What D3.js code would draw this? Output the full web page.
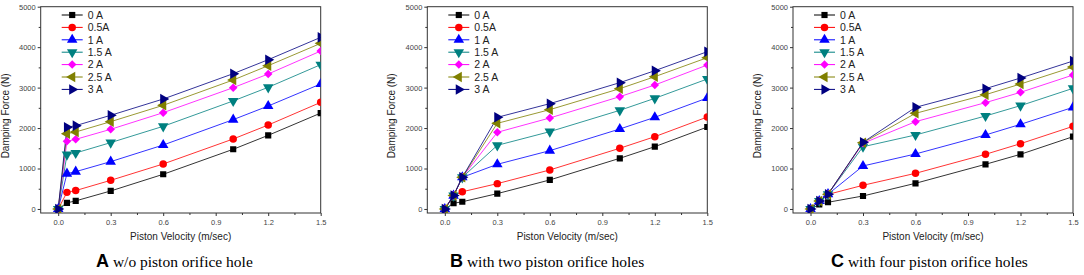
<!DOCTYPE html>
<html>
<head>
<meta charset="utf-8">
<script src="https://cdn.jsdelivr.net/npm/d3@7"></script>
<style>
  body { margin: 0; background: #fff; }
  svg { display: block; }
  text { font-family: "Liberation Sans", Arial, sans-serif; }
</style>
</head>
<body>
<div id="chart"></div>
<script>
const velocity = [0, 0.05, 0.1, 0.3, 0.6, 1.0, 1.2, 1.5];
const currents = ["0 A", "0.5A", "1 A", "1.5 A", "2 A", "2.5 A", "3 A"];
const colors   = ["#000000", "#ff0000", "#0000ff", "#008080", "#ff00ff", "#808000", "#000080"];
const xTicks = [0, 0.3, 0.6, 0.9, 1.2, 1.5];
const yTicks = [0, 1000, 2000, 3000, 4000, 5000];

// panel A: w/o orifice hole
const forceA = [
  [0, 150, 200, 445, 857, 1475, 1820, 2370],
  [0, 410, 455, 708, 1112, 1730, 2075, 2635],
  [0, 873, 922, 1170, 1581, 2208, 2545, 3090],
  [0, 1343, 1384, 1640, 2043, 2670, 3007, 3567],
  [0, 1672, 1721, 1969, 2380, 2998, 3336, 3904],
  [0, 1862, 1903, 2158, 2562, 3188, 3542, 4094],
  [0, 2018, 2060, 2315, 2718, 3344, 3690, 4242]
];
// panel B: two orifice holes
const forceB = [
  [0, 140, 178, 379, 717, 1252, 1540, 2026],
  [0, 330, 425, 626, 964, 1500, 1787, 2273],
  [0, 330, 782, 1104, 1441, 1977, 2265, 2743],
  [0, 330, 782, 1573, 1911, 2438, 2735, 3213],
  [0, 330, 782, 1895, 2249, 2776, 3064, 3559],
  [0, 330, 782, 2117, 2455, 2974, 3270, 3740],
  [0, 330, 782, 2265, 2603, 3122, 3418, 3888]
];
// panel C: four orifice holes
const forceC = [
  [0, 112, 165, 321, 634, 1104, 1351, 1787],
  [0, 197, 360, 585, 881, 1351, 1614, 2043],
  [0, 197, 365, 1063, 1359, 1829, 2092, 2512],
  [0, 197, 365, 1538, 1829, 2298, 2554, 2982],
  [0, 197, 365, 1623, 2158, 2628, 2883, 3311],
  [0, 197, 365, 1639, 2364, 2825, 3089, 3509],
  [0, 197, 365, 1647, 2512, 2974, 3237, 3657]
];

const panels = [
  { data: forceA, left: 40.7, right: 320.7, letter: "A", caption: "w/o piston orifice hole", capX: 96 },
  { data: forceB, left: 427.3, right: 707.3, letter: "B", caption: "with two piston orifice holes", capX: 450 },
  { data: forceC, left: 793, right: 1073, letter: "C", caption: "with four piston orifice holes", capX: 831 }
];

const W = 1084, H = 275;
const plotTop = 6.7, plotBottom = 213;

// marker shape + rotation for each series (Origin style)
const markers = [
  { type: d3.symbolSquare, rot: 0, size: 38 },
  { type: d3.symbolCircle, rot: 0, size: 44 },
  { type: d3.symbolTriangle, rot: 0, size: 48 },
  { type: d3.symbolTriangle, rot: 180, size: 48 },
  { type: d3.symbolSquare, rot: 45, size: 36 },
  { type: d3.symbolTriangle, rot: -90, size: 48 },
  { type: d3.symbolTriangle, rot: 90, size: 48 }
];

const svg = d3.select("#chart").append("svg")
  .attr("width", W).attr("height", H);

panels.forEach((p, pi) => {
  const x = d3.scaleLinear().domain([-0.1, 1.5]).range([p.left, p.right]);
  const y = d3.scaleLinear().domain([-100, 5000]).range([plotBottom, plotTop]);
  const g = svg.append("g");

  const clipId = "clip" + pi;
  g.append("clipPath").attr("id", clipId)
    .append("rect")
    .attr("x", p.left).attr("y", plotTop)
    .attr("width", p.right - p.left).attr("height", plotBottom - plotTop);

  // minor ticks
  const xMinor = d3.range(0.15, 1.5, 0.3);
  const yMinor = d3.range(500, 5000, 1000);
  g.append("g").attr("transform", `translate(0,${plotBottom})`)
    .call(d3.axisBottom(x).tickValues(xMinor).tickSize(2).tickFormat(""))
    .call(a => a.select(".domain").remove());
  g.append("g").attr("transform", `translate(${p.left},0)`)
    .call(d3.axisLeft(y).tickValues(yMinor).tickSize(2).tickFormat(""))
    .call(a => a.select(".domain").remove());

  // major ticks
  const xa = g.append("g").attr("transform", `translate(0,${plotBottom})`)
    .call(d3.axisBottom(x).tickValues(xTicks).tickSize(3).tickPadding(4).tickFormat(d3.format(".1f")));
  xa.select(".domain").remove();
  xa.selectAll("text").attr("font-size", 7.5).attr("fill", "#444");

  const ya = g.append("g").attr("transform", `translate(${p.left},0)`)
    .call(d3.axisLeft(y).tickValues(yTicks).tickSize(3).tickPadding(2).tickFormat(d3.format("d")));
  ya.select(".domain").remove();
  ya.selectAll("text").attr("font-size", 7.5).attr("fill", "#444");

  g.selectAll(".tick line").attr("stroke", "#333");

  // frame
  g.append("rect")
    .attr("x", p.left).attr("y", plotTop)
    .attr("width", p.right - p.left).attr("height", plotBottom - plotTop)
    .attr("fill", "none").attr("stroke", "#333").attr("stroke-width", 1);

  const line = d3.line().x((d, i) => x(velocity[i])).y(d => y(d));
  const plot = g.append("g").attr("clip-path", `url(#${clipId})`);

  p.data.forEach((series, si) => {
    plot.append("path")
      .datum(series)
      .attr("d", line)
      .attr("fill", "none")
      .attr("stroke", colors[si])
      .attr("stroke-width", 1)
      .attr("stroke-opacity", 0.8);
  });
  p.data.forEach((series, si) => {
    const m = markers[si];
    plot.selectAll(null)
      .data(series)
      .join("path")
      .attr("d", d3.symbol().type(m.type).size(m.size))
      .attr("transform", (d, i) => `translate(${x(velocity[i])},${y(d)}) rotate(${m.rot})`)
      .attr("fill", colors[si]);
  });

  // legend
  const lg = g.append("g").attr("transform", `translate(${p.left + 21},15)`);
  currents.forEach((c, si) => {
    const row = lg.append("g").attr("transform", `translate(0,${si * 12.4})`);
    row.append("line").attr("x1", 0).attr("x2", 21).attr("y1", 0).attr("y2", 0)
      .attr("stroke", colors[si]).attr("stroke-width", 1);
    const m = markers[si];
    row.append("path")
      .attr("d", d3.symbol().type(m.type).size(m.size)())
      .attr("transform", `translate(10.5,0) rotate(${m.rot})`)
      .attr("fill", colors[si]);
    row.append("text").attr("x", 26).attr("y", 0).attr("dy", "0.36em")
      .attr("font-size", 10.5).attr("fill", "#222").text(c);
  });

  // axis titles
  g.append("text")
    .attr("x", (p.left + p.right) / 2).attr("y", 240)
    .attr("text-anchor", "middle").attr("font-size", 10).attr("fill", "#222")
    .text("Piston Velocity (m/sec)");
  g.append("text")
    .attr("transform", `translate(${p.left - 32},${(plotTop + plotBottom) / 2 + 6}) rotate(-90)`)
    .attr("text-anchor", "middle").attr("font-size", 10).attr("fill", "#222")
    .text("Damping Force (N)");

  // caption
  const cap = g.append("text").attr("x", p.capX).attr("y", 267);
  cap.append("tspan").attr("font-weight", "bold").attr("font-size", 18)
    .attr("font-family", "Liberation Sans, Arial, sans-serif").text(p.letter);
  cap.append("tspan").attr("font-size", 15.5)
    .attr("font-family", "Liberation Serif, Times New Roman, serif").text(" " + p.caption);
});
</script>
</body>
</html>
